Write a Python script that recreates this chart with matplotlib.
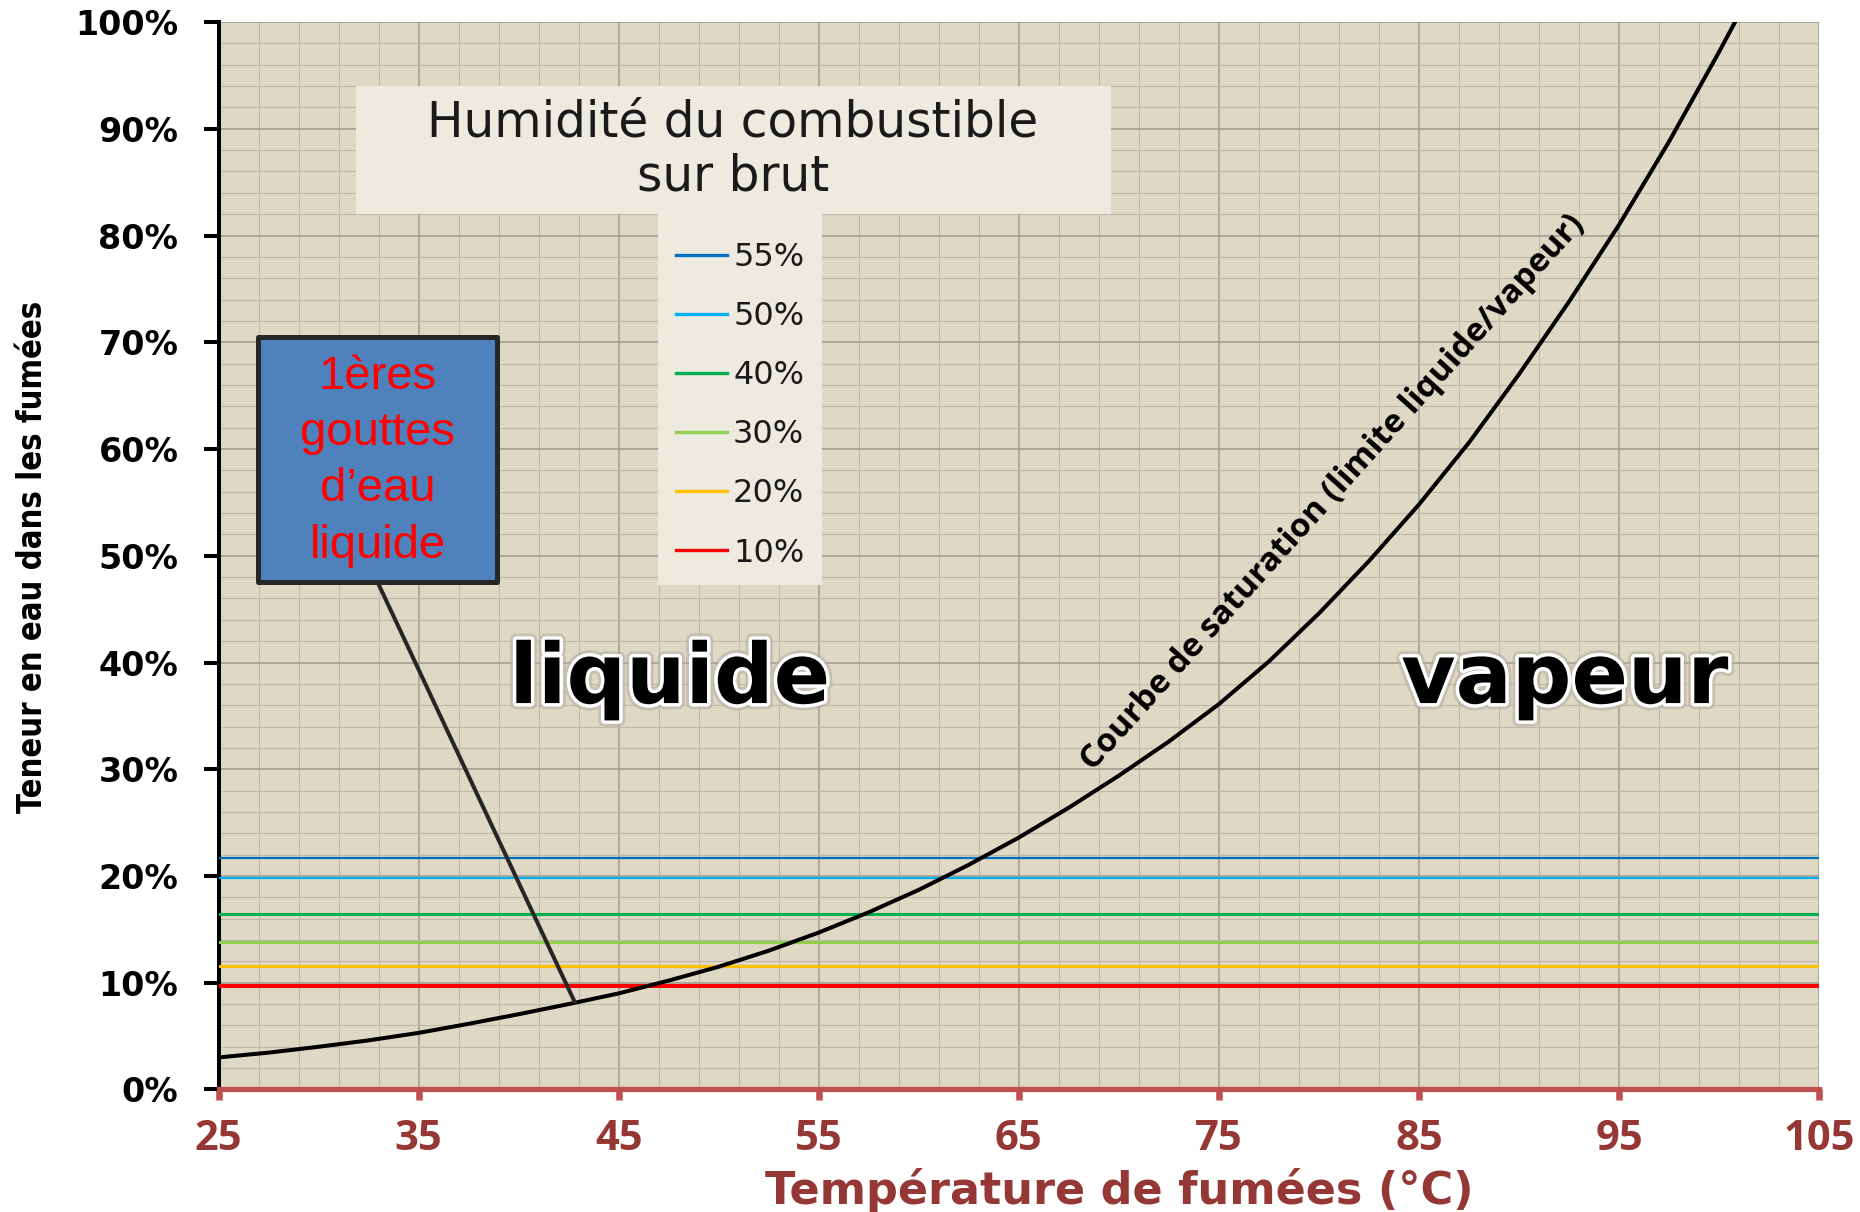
import numpy as np
import matplotlib
matplotlib.use('Agg')
import matplotlib.pyplot as plt
import matplotlib.patheffects as pe
from matplotlib.patches import Rectangle
from matplotlib import font_manager
from matplotlib.ticker import FixedLocator

# Saturation curve: flue gas temperature (degC) -> water content (%)
sat_temp = [25, 27.5, 30, 32.5, 35, 37.5, 40, 42.5, 45, 47.5, 50, 52.5, 55, 57.5, 60,
            62.5, 65, 67.5, 70, 72.5, 75, 77.5, 80, 82.5, 85, 87.5, 90, 92.5, 95,
            97.5, 100, 100.8]
sat_water = [3.0, 3.45, 4.0, 4.6, 5.3, 6.15, 7.05, 8.0, 9.0, 10.2, 11.5, 13.0, 14.7,
             16.6, 18.7, 21.05, 23.6, 26.4, 29.4, 32.6, 36.1, 40.1, 44.6, 49.5, 54.8,
             60.6, 67.0, 73.8, 81.0, 88.8, 97.2, 100.0]

# Water content of flue gas for each fuel moisture (on raw basis)
moisture_labels = ['55%', '50%', '40%', '30%', '20%', '10%']
water_levels = [21.7, 19.8, 16.4, 13.8, 11.6, 9.7]
level_colors = ['#0070C0', '#00B0F0', '#00B050', '#92D050', '#FFC000', '#FF0000']
level_widths = [1.6, 1.6, 2.2, 2.2, 2.2, 2.9]

x_ticks = list(range(25, 106, 10))
y_ticks = list(range(0, 101, 10))
x_minor = list(range(25, 106, 2))
y_minor = list(range(0, 101, 2))

# point of the curve pointed at by the callout
callout_temp = 42.8
callout_water = 8.2

# condensed bold font for the y title if there is one
cond = [f for f in font_manager.fontManager.ttflist
        if f.name == 'DejaVu Sans' and f.stretch == 'condensed' and f.weight in (700, 'bold')]
if cond:
    ylab_font = dict(family='DejaVu Sans', fontstretch='condensed', fontsize=23.5)
else:
    ylab_font = dict(family='Lato', fontsize=24)

dark_red = '#953735'
axis_red = '#C0504D'

fig = plt.figure(figsize=(18.6, 12.12), dpi=100)
ax = fig.add_axes([0.1175, 0.1011, 0.8605, 0.8807])
ax.set_facecolor('#DED8C4')
ax.set_xlim(25, 105)
ax.set_ylim(0, 100)

# grid
ax.xaxis.set_major_locator(FixedLocator(x_ticks))
ax.yaxis.set_major_locator(FixedLocator(y_ticks))
ax.xaxis.set_minor_locator(FixedLocator(x_minor))
ax.yaxis.set_minor_locator(FixedLocator(y_minor))
ax.grid(which='major', color='#9E9A90', lw=1.1)
ax.grid(which='minor', color='#BDB8AA', lw=0.8)
ax.set_axisbelow(True)

for s in ['top', 'right']:
    ax.spines[s].set_visible(False)
ax.spines['left'].set_color('black')
ax.spines['left'].set_linewidth(2.9)
ax.spines['bottom'].set_color(axis_red)
ax.spines['bottom'].set_linewidth(3.8)

ax.tick_params(which='minor', length=0)
ax.tick_params(axis='y', which='major', direction='out', length=11, width=2.9,
               color='black', pad=18)
ax.tick_params(axis='x', which='major', direction='out', length=8, width=4.7,
               color=axis_red, pad=13)
ax.set_yticklabels([f'{v}%' for v in y_ticks], fontsize=24, fontweight='bold',
                   family='DejaVu Sans', color='black')
ax.set_xticklabels([str(v) for v in x_ticks], fontsize=30, fontweight='bold',
                   family='Open Sans', color=dark_red)

# horizontal lines for each fuel moisture
for lab, val, col, lw in zip(moisture_labels, water_levels, level_colors, level_widths):
    ax.axhline(val, color=col, lw=lw, zorder=3, label=lab)

# saturation curve
ax.plot(sat_temp, sat_water, color='black', lw=2.9, zorder=5, solid_joinstyle='round')

# legend block (title box + column)
box_col = '#EDEAE0'
ax.add_patch(Rectangle((31.87, 82.0), 37.73, 12.05, facecolor=box_col, edgecolor='none', zorder=4))
ax.add_patch(Rectangle((46.96, 47.3), 8.2, 34.7, facecolor=box_col, edgecolor='none', zorder=4))
ax.text(50.71, 88.06, 'Humidité du combustible\nsur brut', ha='center', va='center',
        fontsize=35, family='DejaVu Sans', color='#1a1a1a', linespacing=1.18, zorder=6)
leg_handles = [plt.Line2D([], [], color=c, lw=2.4) for c in level_colors]
leg = ax.legend(leg_handles, moisture_labels, loc='center', bbox_to_anchor=(51.06, 64.1),
                bbox_transform=ax.transData, frameon=False, handlelength=1.6,
                handletextpad=0.2, labelspacing=0.88, prop={'family': 'DejaVu Sans', 'size': 23})
leg.set_zorder(6)
for t in leg.get_texts():
    t.set_color('#1a1a1a')

# callout box
ax.annotate('', xy=(callout_temp, callout_water), xytext=(32.95, 47.52),
            arrowprops=dict(arrowstyle='-', color='#262626', lw=2.9, shrinkA=0, shrinkB=0),
            zorder=6)
ax.add_patch(Rectangle((26.97, 47.52), 11.95, 22.94, facecolor='#4F81BD', edgecolor='#262626',
                       lw=3.6, joinstyle='round', zorder=7))
ax.text(32.95, 58.85, '1ères\ngouttes\nd’eau\nliquide', ha='center', va='center', color='#FF0000',
        fontsize=34, family='Liberation Sans', linespacing=1.36, zorder=8)

# region labels
effects = [pe.Stroke(linewidth=9, foreground='#b5b0a2', alpha=0.6),
           pe.Stroke(linewidth=5, foreground='white'), pe.Normal()]
ax.text(47.56, 36.2, 'liquide', ha='center', va='baseline', fontsize=60, fontweight='bold',
        family='DejaVu Sans', color='black', path_effects=effects, zorder=6)
ax.text(92.3, 36.2, 'vapeur', ha='center', va='baseline', fontsize=60, fontweight='bold',
        family='DejaVu Sans', color='black', path_effects=effects, zorder=6)

ax.text(80.7, 55.9, 'Courbe de saturation (limite liquide/vapeur)', rotation=48,
        rotation_mode='anchor', ha='center', va='center', fontsize=24, fontweight='bold',
        family='Open Sans', color='black', zorder=6)

# axis titles
fig.text(0.0177, 0.5404, 'Teneur en eau dans les fumées', rotation=90, ha='center', va='center',
         fontweight='bold', color='black', **ylab_font)
fig.text(0.602, 0.018, 'Température de fumées (°C)', ha='center', va='center',
         fontsize=32, fontweight='bold', family='DejaVu Sans', color=dark_red)

fig.savefig('out.png', dpi=100, facecolor='white')
